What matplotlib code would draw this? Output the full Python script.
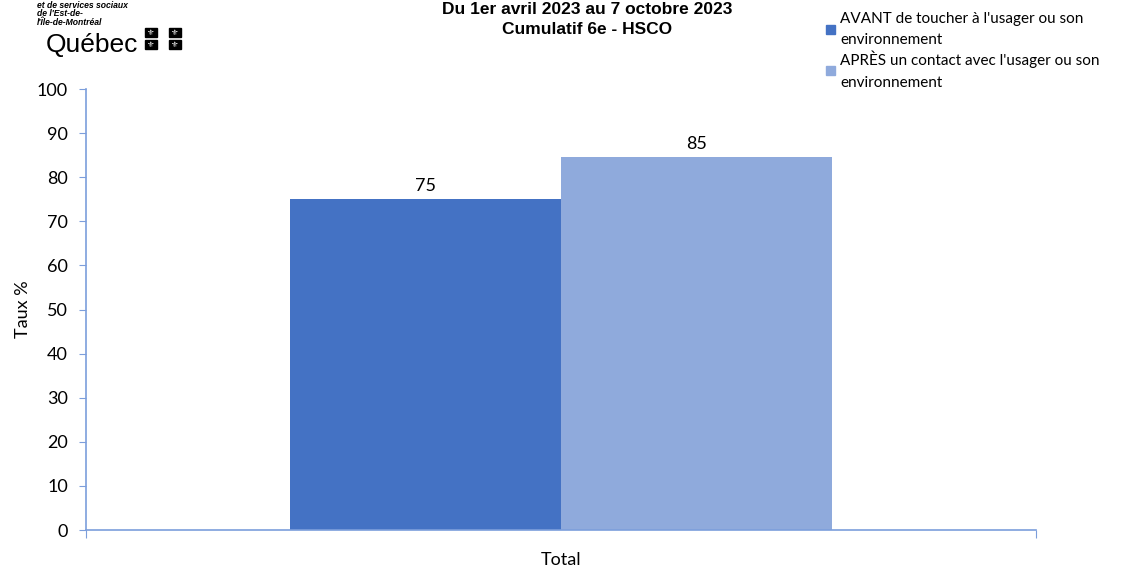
import matplotlib.pyplot as plt
from matplotlib.patches import Rectangle, Patch

# Taux d'hygiène des mains (%)
categories = ["Total"]
series_names = ["AVANT de toucher à l'usager ou son\nenvironnement",
                "APRÈS un contact avec l'usager ou son\nenvironnement"]
avant = [75.0]
apres = [84.6]
colors = ["#4472C4", "#8FAADC"]
axis_color = "#7C9EDB"
font = "Lato"

fig = plt.figure(figsize=(11.21, 5.68), dpi=100)
ax = fig.add_axes([0.0767, 0.0669, 0.8475, 0.7764])

w = 0.285
b1 = ax.bar([-w / 2], avant, width=w, color=colors[0])
b2 = ax.bar([w / 2], apres, width=w, color=colors[1])

for bars, vals in ((b1, avant), (b2, apres)):
    for r, v in zip(bars, vals):
        ax.text(r.get_x() + r.get_width() / 2, v + 1.1, f"{v:.0f}",
                ha="center", va="bottom", fontsize=13, family=font)

ax.set_xlim(-0.5, 0.5)
ax.set_ylim(0, 100)
ax.set_yticks(range(0, 101, 10))
ax.set_xticks([-0.5, 0.5])
ax.set_xticklabels(["", ""])
ax.set_xticks([0], minor=True)
ax.set_xticklabels(categories, minor=True, fontsize=13, family=font)
ax.tick_params(axis="x", which="minor", length=0, pad=16)
ax.tick_params(axis="x", which="major", length=6, color=axis_color)
ax.tick_params(axis="y", length=5, color=axis_color, labelsize=13, pad=8)
for lab in ax.get_yticklabels():
    lab.set_family(font)

for s in ("top", "right"):
    ax.spines[s].set_visible(False)
for s in ("left", "bottom"):
    ax.spines[s].set_color(axis_color)
    ax.spines[s].set_linewidth(1.2)

ax.set_ylabel("Taux %", fontsize=13, family=font, labelpad=4)

# titre
fig.text(0.524, 0.997, "Du 1er avril 2023 au 7 octobre 2023\nCumulatif 6e - HSCO",
         ha="center", va="top", fontsize=12.5, fontweight="bold",
         family="Liberation Sans", linespacing=1.45)

# légende
handles = [Patch(color=c) for c in colors]
leg = fig.legend(handles, series_names, loc="upper left", bbox_to_anchor=(0.737, 0.979),
                 frameon=False, handlelength=0.55, handleheight=0.55, borderpad=0,
                 borderaxespad=0, handletextpad=0.35, labelspacing=0.25,
                 prop={"family": font, "size": 11})
for t in leg.get_texts():
    t.set_linespacing(1.65)

# logo
fig.text(0.033, 0.999, "et de services sociaux\nde l'Est-de-\nl'Île-de-Montréal",
         ha="left", va="top", fontsize=6.2, fontweight="bold", style="italic",
         family="Liberation Sans", linespacing=0.95)
fig.text(0.041, 1 - 52 / 568, "Québec", ha="left", va="baseline", fontsize=19,
         family="Liberation Sans")
for x0 in (145, 169):
    for y0 in (28, 40):
        fig.patches.append(Rectangle((x0 / 1121, 1 - (y0 + 9) / 568), 12 / 1121, 9 / 568,
                                     transform=fig.transFigure, color="black"))
        fig.text((x0 + 6) / 1121, 1 - (y0 + 4.5) / 568, "⚜", color="white",
                 ha="center", va="center", fontsize=6, family="DejaVu Sans")

fig.savefig("out.png", dpi=100)
